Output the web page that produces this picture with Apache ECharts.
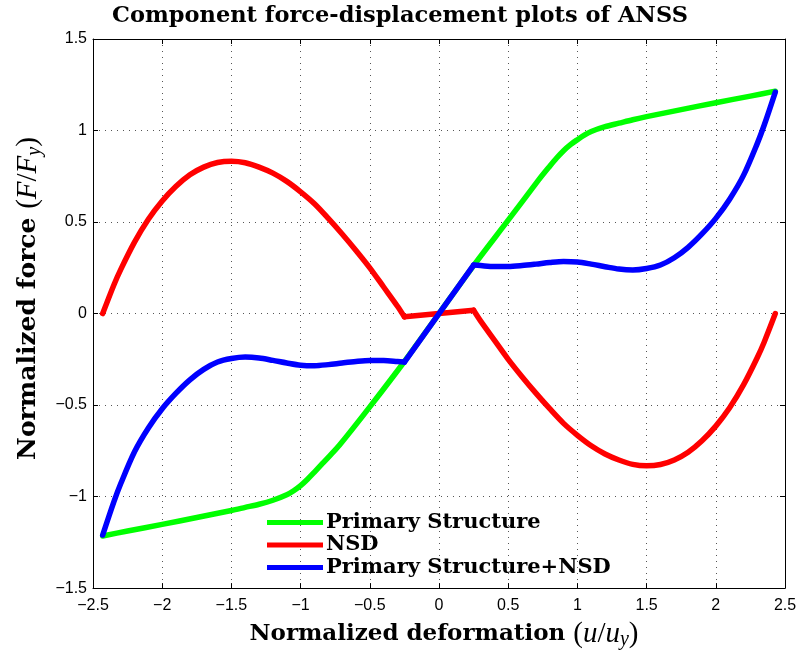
<!DOCTYPE html>
<html>
<head>
<meta charset="utf-8">
<script src="https://cdn.jsdelivr.net/npm/echarts@6/dist/echarts.min.js"></script>
<style>html,body{margin:0;padding:0;background:#fff;}#c{width:800px;height:655px;}</style>
</head>
<body>
<div id="c"></div>
<script>
// ---- data ----
const xTicks = [-2.5, -2, -1.5, -1, -0.5, 0, 0.5, 1, 1.5, 2, 2.5];
const yTicks = [-1.5, -1, -0.5, 0, 0.5, 1, 1.5];

const primaryStructure = [
  [-2.43,-1.215],[-2.25,-1.188],[-2.0,-1.152],[-1.75,-1.114],[-1.5,-1.076],[-1.4,-1.059],
  [-1.3,-1.042],[-1.2,-1.02],[-1.1,-0.99],[-1.05,-0.968],[-1.0,-0.94],[-0.95,-0.905],
  [-0.9,-0.866],[-0.85,-0.826],[-0.8,-0.786],[-0.72,-0.72],[-0.5,-0.51],[-0.25,-0.262],
  [0,0],
  [0.25,0.262],[0.5,0.51],[0.72,0.73],[0.8,0.805],[0.85,0.85],[0.9,0.89],[0.95,0.923],
  [1.0,0.95],[1.05,0.975],[1.1,0.995],[1.2,1.021],[1.3,1.04],[1.4,1.059],[1.5,1.076],
  [1.75,1.114],[2.0,1.152],[2.25,1.188],[2.43,1.215]
];
const nsd = [
  [-2.43,0.0],[-2.35,0.155],[-2.3,0.24],[-2.2,0.39],[-2.1,0.515],[-2.0,0.615],[-1.9,0.695],
  [-1.8,0.758],[-1.7,0.8],[-1.6,0.825],[-1.5,0.832],[-1.4,0.824],[-1.3,0.8],[-1.2,0.767],
  [-1.1,0.722],[-1.0,0.665],[-0.9,0.6],[-0.8,0.52],[-0.7,0.435],[-0.6,0.345],[-0.5,0.25],
  [-0.4,0.145],[-0.3,0.04],[-0.25,-0.018],
  [0,0],
  [0.25,0.018],[0.3,-0.04],[0.4,-0.145],[0.5,-0.25],[0.6,-0.345],[0.7,-0.435],[0.8,-0.52],
  [0.9,-0.6],[1.0,-0.665],[1.1,-0.722],[1.2,-0.767],[1.3,-0.8],[1.4,-0.824],[1.5,-0.832],
  [1.6,-0.825],[1.7,-0.8],[1.8,-0.758],[1.9,-0.695],[2.0,-0.615],[2.1,-0.515],[2.2,-0.39],
  [2.3,-0.24],[2.35,-0.155],[2.43,0.0]
];
const primaryPlusNsd = [
  [-2.43,-1.21],[-2.35,-1.03],[-2.3,-0.93],[-2.2,-0.755],[-2.1,-0.625],[-2.0,-0.52],
  [-1.9,-0.435],[-1.8,-0.362],[-1.7,-0.305],[-1.6,-0.265],[-1.5,-0.246],[-1.4,-0.238],
  [-1.3,-0.243],[-1.2,-0.256],[-1.1,-0.27],[-1.0,-0.282],[-0.9,-0.285],[-0.8,-0.279],
  [-0.7,-0.27],[-0.6,-0.262],[-0.5,-0.257],[-0.4,-0.257],[-0.3,-0.262],[-0.25,-0.265],
  [0,0],
  [0.25,0.265],[0.3,0.262],[0.4,0.257],[0.5,0.257],[0.6,0.262],[0.7,0.27],[0.8,0.279],
  [0.9,0.285],[1.0,0.282],[1.1,0.27],[1.2,0.256],[1.3,0.243],[1.4,0.238],[1.5,0.246],
  [1.6,0.265],[1.7,0.305],[1.8,0.362],[1.9,0.435],[2.0,0.52],[2.1,0.625],[2.2,0.755],
  [2.3,0.93],[2.35,1.03],[2.43,1.21]
];
const seriesNames = ['Primary Structure', 'NSD', 'Primary Structure+NSD'];
const seriesColors = ['#00ff00', '#ff0000', '#0000ff'];
const kinkX = 0.25; // where NSD switches branch (sharp corners)

// ---- chart ----
const chart = echarts.init(document.getElementById('c'), null, {renderer: 'canvas'});
const serif = "'DejaVu Serif', 'Liberation Serif', serif";
const lserif = "'Liberation Serif', serif";
const sans = "'Liberation Sans', Arial, sans-serif";
const fmt = v => String(v).replace('-', '\u2212');
function mathRich(bs, ms, ss, lh, pad, lead) {
  return {
    b: {fontFamily: serif, fontWeight: 'bold', fontSize: bs, color: '#000', lineHeight: lh, padding: [0, 0, 0, lead]},
    p: {fontFamily: lserif, fontSize: ms, color: '#000', lineHeight: lh},
    i: {fontFamily: lserif, fontStyle: 'italic', fontSize: ms, color: '#000', lineHeight: lh},
    s: {fontFamily: lserif, fontStyle: 'italic', fontSize: ss, color: '#000', lineHeight: lh, verticalAlign: 'bottom', padding: [pad, 0, 0, 0]}
  };
}
const mainAxisCommon = {
  type: 'value',
  interval: 0.5,
  axisLine: {show: true, onZero: false, lineStyle: {color: '#000', width: 1}},
  axisTick: {show: true, inside: true, length: 5, lineStyle: {color: '#000'}},
  splitLine: {show: true, lineStyle: {color: '#555', width: 1, type: [1, 5]}},
  axisLabel: {color: '#000', fontFamily: sans, fontSize: 16, formatter: fmt}
};

function segments(data) {
  const left = data.filter(p => p[0] <= -kinkX + 1e-9);
  const mid = data.filter(p => p[0] >= -kinkX - 1e-9 && p[0] <= kinkX + 1e-9);
  const right = data.filter(p => p[0] >= kinkX - 1e-9);
  return [[left, true], [mid, false], [right, true]];
}
const series = [];
[primaryStructure, nsd, primaryPlusNsd].forEach((d, k) => {
  const parts = k === 0 ? [[d, true]] : segments(d);
  parts.forEach(([pts, sm]) => {
    series.push({
      name: seriesNames[k],
      type: 'line',
      data: pts,
      showSymbol: false,
      smooth: sm ? 0.3 : false,
      color: seriesColors[k],
      lineStyle: {color: seriesColors[k], width: 5.5, cap: 'round', join: 'round'},
      z: 2 + k
    });
  });
});

const option = {
  backgroundColor: '#fff',
  animation: false,
  title: {
    text: 'Component force-displacement plots of ANSS',
    left: 'center', top: 0,
    textStyle: {fontFamily: serif, fontWeight: 'bold', fontSize: 22.5, color: '#000'}
  },
  grid: {left: 93, top: 39, right: 15, bottom: 63, containLabel: false},
  legend: {
    orient: 'vertical', left: 262, top: 507, itemGap: 1.5,
    itemWidth: 56, itemHeight: 5, icon: 'rect',
    data: seriesNames,
    textStyle: {fontFamily: serif, fontWeight: 'bold', fontSize: 21, lineHeight: 20, color: '#000', padding: [0, 0, 0, -2]}
  },
  xAxis: [
    Object.assign({}, mainAxisCommon, {
      min: xTicks[0], max: xTicks[xTicks.length - 1], position: 'bottom',
      axisLabel: Object.assign({}, mainAxisCommon.axisLabel, {margin: 9}),
      name: '{b|Normalized deformation }{p|(}{i|u}{p|/}{i|u}{s|y}{p|)}',
      nameLocation: 'middle', nameGap: 27,
      nameTextStyle: {rich: mathRich(23, 29, 20, 32, 12, 10)}
    }),
    {type: 'value', min: xTicks[0], max: xTicks[xTicks.length - 1], interval: 0.5, position: 'top',
     axisLine: {show: true, onZero: false, lineStyle: {color: '#000'}},
     axisTick: {show: true, inside: true, length: 5, lineStyle: {color: '#000'}},
     axisLabel: {show: false}, splitLine: {show: false}}
  ],
  yAxis: [
    Object.assign({}, mainAxisCommon, {
      min: yTicks[0], max: yTicks[yTicks.length - 1], position: 'left',
      axisLabel: Object.assign({}, mainAxisCommon.axisLabel, {margin: 6}),
      name: '{b|Normalized force }{p|(}{i|F}{p|/}{i|F}{s|y}{p|)}',
      nameLocation: 'middle', nameGap: 37,
      nameTextStyle: {rich: mathRich(25, 29, 20, 32, 12, 30)}
    }),
    {type: 'value', min: yTicks[0], max: yTicks[yTicks.length - 1], interval: 0.5, position: 'right',
     axisLine: {show: true, onZero: false, lineStyle: {color: '#000'}},
     axisTick: {show: true, inside: true, length: 5, lineStyle: {color: '#000'}},
     axisLabel: {show: false}, splitLine: {show: false}}
  ],
  series: series
};
chart.setOption(option);
</script>
</body>
</html>
